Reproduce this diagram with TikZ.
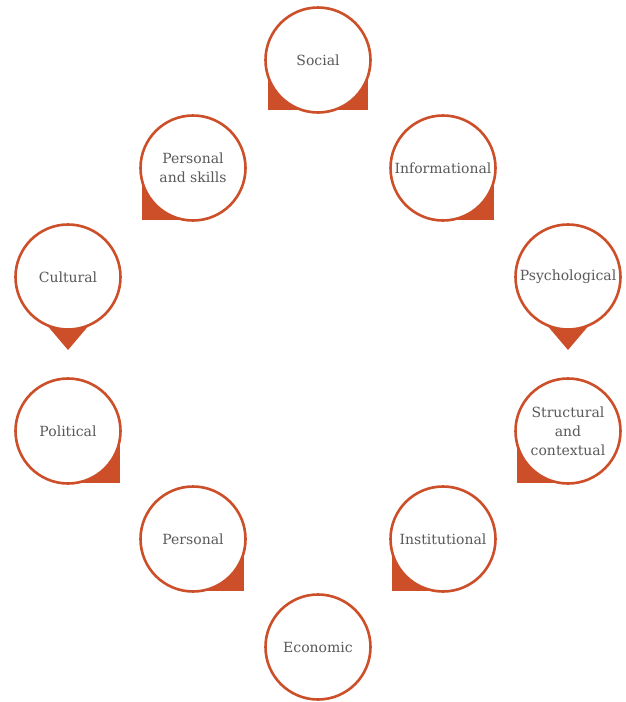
\documentclass[tikz,border=0pt]{standalone}
\usepackage{fontspec}
\setmainfont{DejaVu Serif}
\usetikzlibrary{backgrounds}

\definecolor{ringcolor}{rgb}{0.800000, 0.310000, 0.160000}
\definecolor{labelcolor}{rgb}{0.350000, 0.350000, 0.350000}

\newlength{\du}
\setlength{\du}{1pt}

\tikzset{
  ring/.style={circle, draw=ringcolor, fill=white, line width=2.6\du,
    minimum size=105\du, inner sep=0pt, align=center, text=labelcolor,
    font=\fontsize{14\du}{19\du}\selectfont},
  tail/.style={fill=ringcolor, draw=none}
}

\begin{document}
\begin{tikzpicture}
\pgftransformxscale{1.000000}
\pgftransformyscale{-1.000000}
\useasboundingbox (0\du,0\du) rectangle (625\du,702\du);
% rings
\node[ring] (social)    at (318\du,60\du)  {Social};
\node[ring] (skills)    at (193\du,168\du) {Personal\\and skills};
\node[ring] (info)      at (443\du,168\du) {Informational};
\node[ring] (cultural)  at (68\du,277\du)  {Cultural};
\node[ring] (psych)     at (568\du,277\du) {Psychological};
\node[ring] (political) at (68\du,431\du)  {Political};
\node[ring] (struct)    at (568\du,431\du) {Structural\\and\\contextual};
\node[ring] (personal)  at (193\du,539\du) {Personal};
\node[ring] (institut)  at (443\du,539\du) {Institutional};
\node[ring] (economic)  at (318\du,647\du) {Economic};
% tails behind the rings
\begin{pgfonlayer}{background}
\fill[tail] (social.center) ++(-50\du,0\du) rectangle ++(100\du,50\du);
\fill[tail] (skills.center) rectangle ++(-51\du,52\du);
\fill[tail] (info.center) rectangle ++(51\du,52\du);
\fill[tail] (cultural.center) ++(-28\du,40\du) -- ++(56\du,0\du) -- ++(-28\du,33\du) -- cycle;
\fill[tail] (psych.center) ++(-28\du,40\du) -- ++(56\du,0\du) -- ++(-28\du,33\du) -- cycle;
\fill[tail] (political.center) rectangle ++(52\du,52\du);
\fill[tail] (struct.center) rectangle ++(-51\du,52\du);
\fill[tail] (personal.center) rectangle ++(51\du,52\du);
\fill[tail] (institut.center) rectangle ++(-51\du,52\du);
\end{pgfonlayer}
\end{tikzpicture}
\end{document}
